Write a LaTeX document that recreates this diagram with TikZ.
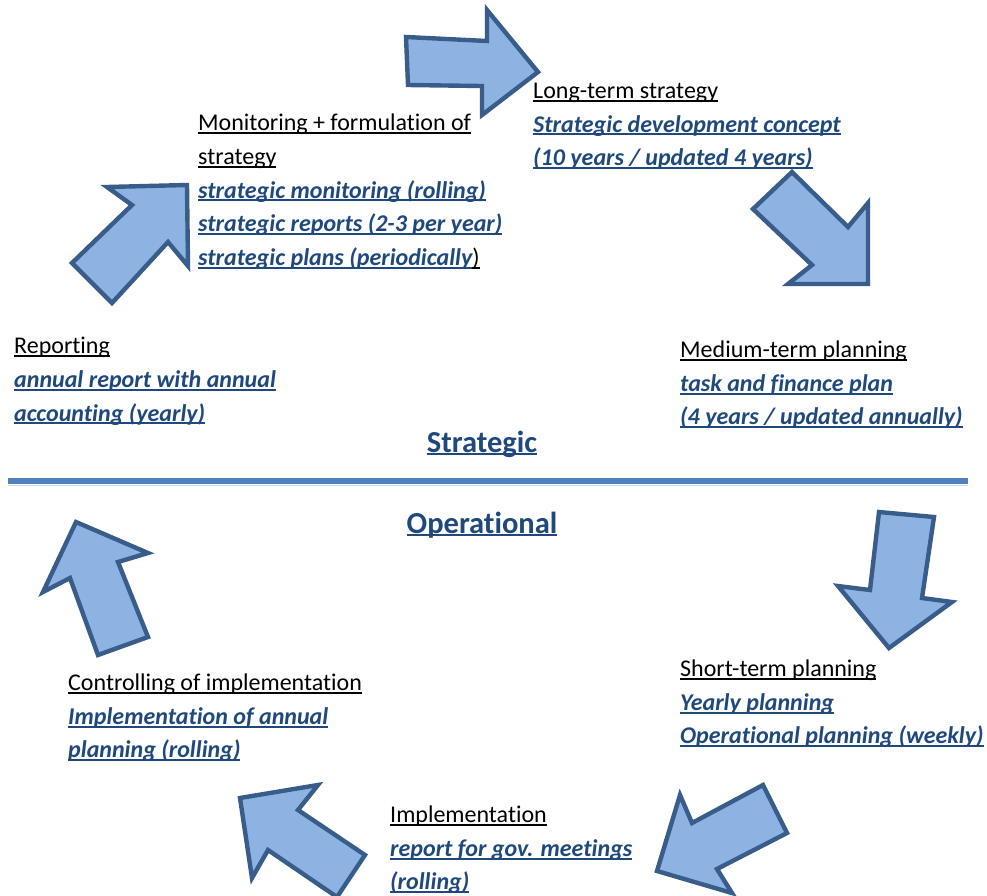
\documentclass[tikz,border=0pt]{standalone}
\usepackage{fontspec}
\setmainfont{Carlito}[Ligatures={NoCommon,NoContextual}]

\definecolor{arrowfill}{HTML}{8DB3E2}
\definecolor{arrowline}{HTML}{385D8A}
\definecolor{textblue}{HTML}{1F497D}
\definecolor{sepblue}{HTML}{4F81BD}
\definecolor{sepshade}{HTML}{C6D9F1}

% underline at a fixed depth below the baseline, independent of descenders
\newcommand\ulin[1]{\leavevmode\setbox0\hbox{#1}\rlap{\vrule height -1.3pt depth 3.3pt width \wd0}\box0}
\newcommand\stagehead[1]{{\color{black}\ulin{#1}}}
\newcommand\stagedetail[1]{{\color{textblue}\bfseries\itshape\ulin{#1}}}
% a block of left-aligned lines whose baseline is that of its first line
\newcommand\stack[1]{\vtop{\baselineskip=33.7pt\lineskiplimit=-100pt\lineskip=0pt #1}}

\tikzset{
  flowarrow/.style={draw=arrowline, fill=arrowfill, line width=4.4pt, line join=miter},
  block/.style={anchor=base west, inner sep=0pt, font=\fontsize{24}{33.7}\selectfont},
  levelhead/.style={anchor=base, inner sep=0pt, text=textblue,
    font=\fontsize{30.5}{36}\selectfont\bfseries},
  sepline/.style={draw=sepblue, line width=6pt},
}

\begin{document}
\begin{tikzpicture}[x=1pt, y=-1pt]
\useasboundingbox (0,0) rectangle (987,895);
\clip (0,0) rectangle (987,895);

% circular flow of block arrows
\draw[flowarrow] (538,72) -- (487,10) -- (487,41) -- (406,37) -- (408,85) -- (482,86) -- (482,115) -- cycle;
\draw[flowarrow] (868,284) -- (868,203) -- (848,227) -- (792,172) -- (753,209) -- (812,265) -- (788,284) -- cycle;
\draw[flowarrow] (889,648) -- (838,586) -- (870,590) -- (879,512) -- (934,517) -- (922,598) -- (952,602) -- cycle;
\draw[flowarrow] (657,871) -- (680,795) -- (692,823) -- (763,785) -- (787,833) -- (717,869) -- (732,893) -- cycle;
\draw[flowarrow] (240,798) -- (318,785) -- (298,810) -- (365,855) -- (337,897) -- (268,850) -- (252,878) -- cycle;
\draw[flowarrow] (76,522) -- (148,553) -- (118,562) -- (148,637) -- (98,655) -- (70,578) -- (43,592) -- cycle;
\draw[flowarrow] (187,185) -- (107,187) -- (132,205) -- (72,263) -- (112,303) -- (168,242) -- (188,266) -- cycle;

% boundary between the strategic and operational levels
\coordinate (sepL) at (8,481);
\coordinate (sepR) at (968,481);
\draw[sepshade, line width=1.2pt] ([yshift=-4.5pt]sepL) -- ([yshift=-4.5pt]sepR);
\draw[sepline] (sepL) -- (sepR);

\node[levelhead] (strategic) at (482,452) {\ulin{Strategic}};
\node[levelhead] (operational) at (482,533) {\ulin{Operational}};

% stages of the cycle
\node[block] (monitoring) at (198,130.7) {\stack{%
  \hbox{\stagehead{Monitoring + formulation of}}
  \hbox{\stagehead{strategy}}
  \hbox{\stagedetail{strategic monitoring (rolling)}}
  \hbox{\stagedetail{strategic reports (2-3 per year)}}
  \hbox{\stagedetail{strategic plans (periodically}\stagehead{)}}}};

\node[block] (longterm) at (533,98.3) {\stack{%
  \hbox{\stagehead{Long-term strategy}}
  \hbox{\stagedetail{Strategic development concept}}
  \hbox{\stagedetail{(10 years / updated 4 years)}}}};

\node[block] (reporting) at (14,353.7) {\stack{%
  \hbox{\stagehead{Reporting}}
  \hbox{\stagedetail{annual report with annual}}
  \hbox{\stagedetail{accounting (yearly)}}}};

\node[block] (mediumterm) at (680,357.5) {\stack{%
  \hbox{\stagehead{Medium-term planning}}
  \hbox{\stagedetail{task and finance plan}}
  \hbox{\stagedetail{(4 years / updated annually)}}}};

\node[block] (shortterm) at (680,676.5) {\stack{%
  \hbox{\stagehead{Short-term planning}}
  \hbox{\stagedetail{Yearly planning}}
  \hbox{\stagedetail{Operational planning (weekly)}}}};

\node[block] (controlling) at (68,690.5) {\stack{%
  \hbox{\stagehead{Controlling of implementation}}
  \hbox{\stagedetail{Implementation of annual}}
  \hbox{\stagedetail{planning (rolling)}}}};

\node[block] (implementation) at (390,822.5) {\stack{%
  \hbox{\stagehead{Implementation}}
  \hbox{\stagedetail{report for gov. meetings}}
  \hbox{\stagedetail{(rolling)}}}};
\end{tikzpicture}
\end{document}
